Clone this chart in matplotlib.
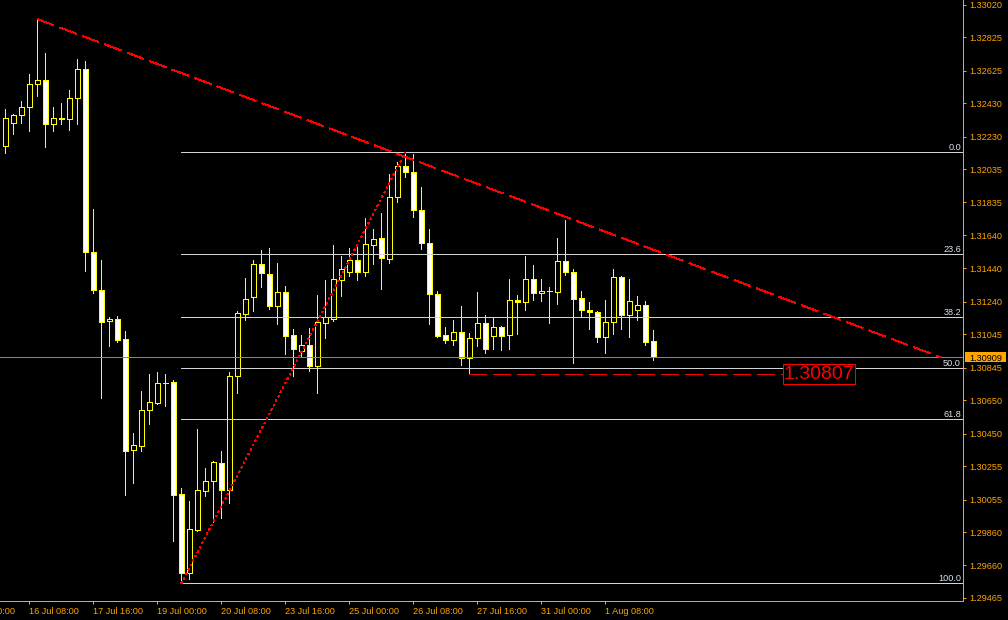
import matplotlib
matplotlib.use("Agg")
import matplotlib.pyplot as plt
import matplotlib.transforms as mtransforms
from matplotlib.patches import Rectangle

# ---------------- data (H4 candles) ----------------
opens = [1.32175, 1.32313, 1.32357, 1.32405, 1.32543, 1.32567, 1.32303, 1.32337, 1.32337, 1.32459,
         1.32633, 1.31536, 1.31309, 1.31123, 1.31135, 1.31015, 1.30350, 1.30378, 1.30590, 1.30635,
         1.30753, 1.30757, 1.30086, 1.29613, 1.29874, 1.30104, 1.30164, 1.30272, 1.30110, 1.30793,
         1.31169, 1.31267, 1.31465, 1.31405, 1.31213, 1.31297, 1.31039, 1.30947, 1.30979, 1.30857,
         1.31115, 1.31139, 1.31369, 1.31417, 1.31488, 1.31417, 1.31578, 1.31620, 1.31494, 1.31866,
         1.32052, 1.32016, 1.31788, 1.31590, 1.31285, 1.31039, 1.31009, 1.31057, 1.30901, 1.31021,
         1.31111, 1.31033, 1.31087, 1.31039, 1.31251, 1.31237, 1.31375, 1.31291, 1.31303, 1.31300,
         1.31482, 1.31417, 1.31261, 1.31189, 1.31177, 1.31027, 1.31117, 1.31387, 1.31163, 1.31189,
         1.31219, 1.31003]
highs = [1.32395, 1.32365, 1.32443, 1.32605, 1.32934, 1.32731, 1.32407, 1.32431, 1.32509, 1.32695,
         1.32683, 1.31796, 1.31490, 1.31149, 1.31155, 1.31065, 1.30454, 1.30705, 1.30807, 1.30817,
         1.30807, 1.30771, 1.30124, 1.30046, 1.30478, 1.30244, 1.30286, 1.30346, 1.30817, 1.31183,
         1.31382, 1.31490, 1.31550, 1.31562, 1.31472, 1.31334, 1.31077, 1.31041, 1.31083, 1.31281,
         1.31370, 1.31580, 1.31514, 1.31562, 1.31580, 1.31742, 1.31676, 1.31772, 1.32006, 1.32077,
         1.32136, 1.32125, 1.31928, 1.31676, 1.31303, 1.31091, 1.31131, 1.31215, 1.31051, 1.31299,
         1.31161, 1.31145, 1.31093, 1.31376, 1.31281, 1.31514, 1.31460, 1.31376, 1.31327, 1.31622,
         1.31730, 1.31435, 1.31305, 1.31239, 1.31185, 1.31251, 1.31436, 1.31393, 1.31376, 1.31275,
         1.31245, 1.31071]
lows = [1.32133, 1.32247, 1.32313, 1.32265, 1.32475, 1.32169, 1.32265, 1.32307, 1.32271, 1.32307,
        1.31426, 1.31294, 1.30665, 1.30977, 1.31001, 1.30082, 1.30156, 1.30348, 1.30509, 1.30627,
        1.30617, 1.29807, 1.29553, 1.29577, 1.29868, 1.30078, 1.29922, 1.29946, 1.30036, 1.30692,
        1.31131, 1.31185, 1.31330, 1.31198, 1.31109, 1.30929, 1.30797, 1.30911, 1.30827, 1.30695,
        1.31025, 1.31127, 1.31276, 1.31396, 1.31372, 1.31396, 1.31468, 1.31318, 1.31474, 1.31840,
        1.31986, 1.31750, 1.31558, 1.31109, 1.31031, 1.30995, 1.30983, 1.30863, 1.30807, 1.30977,
        1.30935, 1.30959, 1.30953, 1.30959, 1.31049, 1.31192, 1.31252, 1.31246, 1.31115, 1.31228,
        1.31402, 1.30875, 1.31151, 1.31079, 1.31001, 1.30935, 1.31049, 1.31079, 1.31031, 1.31133,
        1.30983, 1.30893]
closes = [1.32339, 1.32357, 1.32405, 1.32543, 1.32567, 1.32303, 1.32339, 1.32339, 1.32459, 1.32633,
          1.31536, 1.31309, 1.31121, 1.31135, 1.31013, 1.30348, 1.30380, 1.30590, 1.30638, 1.30751,
          1.30752, 1.30080, 1.29613, 1.29877, 1.30110, 1.30164, 1.30278, 1.30110, 1.30793, 1.31171,
          1.31255, 1.31465, 1.31411, 1.31213, 1.31297, 1.31037, 1.30955, 1.30979, 1.30857, 1.31117,
          1.31147, 1.31375, 1.31435, 1.31488, 1.31417, 1.31584, 1.31614, 1.31500, 1.31866, 1.32052,
          1.32016, 1.31788, 1.31590, 1.31285, 1.31037, 1.31009, 1.31057, 1.30901, 1.31021, 1.31111,
          1.30955, 1.31087, 1.31033, 1.31249, 1.31237, 1.31375, 1.31291, 1.31303, 1.31303, 1.31482,
          1.31417, 1.31255, 1.31189, 1.31179, 1.31027, 1.31117, 1.31387, 1.31163, 1.31243, 1.31219,
          1.31001, 1.30909]

time_tick_bars = [-5, 3, 11, 19, 27, 35, 43, 51, 59, 67, 75]
time_tick_labels = ["15 Jul 00:00", "16 Jul 08:00", "17 Jul 16:00", "19 Jul 00:00", "20 Jul 08:00",
                    "23 Jul 16:00", "25 Jul 00:00", "26 Jul 08:00", "27 Jul 16:00", "31 Jul 00:00",
                    "1 Aug 08:00"]
price_ticks = [1.33020, 1.32825, 1.32625, 1.32430, 1.32230, 1.32035, 1.31835, 1.31640, 1.31440,
               1.31240, 1.31045, 1.30845, 1.30650, 1.30450, 1.30255, 1.30055, 1.29860, 1.29660,
               1.29465]

bid_price = 1.30909
fib_bars = [22, 50]
fib_prices = [1.29553, 1.32136]
fib_levels = [0.0, 23.6, 38.2, 50.0, 61.8, 100.0]
trend_bars = [4, 117]
trend_prices = [1.32934, 1.30906]
support_bars = [58, 97.3]
support_price = 1.30807

# ---------------- style ----------------
plt.rcParams['font.family'] = ['Liberation Sans', 'DejaVu Sans']
plt.rcParams['lines.scale_dashes'] = False
ORANGE = '#ffa500'
YELLOW = '#ffff00'
RED = '#ff0000'
FIBC = '#d3d3d3'
FIBTXT = '#d8e4f0'
BIDC = '#778899'
PX = 0.72  # one pixel in points at dpi 100
FS = 6.6
DASH = (18 * PX, 6 * PX)
DOT = (2 * PX, 3 * PX)
RLW = 0.66

W, H = 1008, 620
fig = plt.figure(figsize=(W / 100, H / 100), dpi=100, facecolor='black')
ax = fig.add_axes([0, 19 / H, 963 / W, 601 / H], facecolor='black')
bar0, step = 5.3, 8.0
ax.set_xlim(-bar0 / step, (963 - bar0) / step)
ax.set_ylim(1.29447, 1.330482)

# candles
n = len(opens)
ax.vlines(range(n), lows, highs, colors=YELLOW, lw=PX, antialiased=False, zorder=2)
hw = 0.28
for i in range(n):
    o, c = opens[i], closes[i]
    fc = '#000000' if c >= o else '#ffffff'
    bot, top = min(o, c), max(o, c)
    ax.add_patch(Rectangle((i - hw, bot), 2 * hw, top - bot, facecolor=fc, edgecolor=YELLOW,
                           lw=PX, antialiased=False, zorder=3))

# bid line
ax.axhline(bid_price, color=BIDC, lw=PX, antialiased=False, zorder=4)

# fibonacci retracement
x_right = ax.get_xlim()[1]
rng = fib_prices[1] - fib_prices[0]
lab_tr = mtransforms.offset_copy(ax.get_yaxis_transform(), fig=fig, x=-2, y=2, units='dots')
for lv in fib_levels:
    p = fib_prices[1] - rng * lv / 100.0
    ax.plot([fib_bars[0], x_right], [p, p], color=FIBC, lw=PX, antialiased=False, zorder=5)
    ax.text(1.0, p, f"{lv:.1f}", transform=lab_tr, ha='right', va='baseline',
            color=FIBTXT, fontsize=FS, zorder=6)
ax.plot(fib_bars, fib_prices, color=RED, lw=RLW, dashes=DOT, antialiased=False, zorder=5)

# trend line
ax.plot(trend_bars, trend_prices, color=RED, lw=RLW, dashes=DASH, antialiased=False, zorder=5)

# support line with price box
ax.plot(support_bars, [support_price, support_price], color=RED, lw=PX, dashes=DASH,
        antialiased=False, zorder=5)
ax.text(support_bars[1], support_price, f"{support_price:.5f}", ha='left', va='center',
        fontsize=14, color=RED, zorder=7,
        bbox=dict(boxstyle='square,pad=0.06', facecolor='black', edgecolor=RED, lw=PX))

# axes styling
for s in ('left', 'top'):
    ax.spines[s].set_visible(False)
for s in ('bottom', 'right'):
    ax.spines[s].set_color(ORANGE)
    ax.spines[s].set_linewidth(PX)

ax.yaxis.tick_right()
ax.set_yticks(price_ticks)
ax.set_yticklabels([f"{v:.5f}" for v in price_ticks])
ax.tick_params(axis='y', colors=ORANGE, labelcolor=ORANGE, length=2.2, width=PX,
               labelsize=FS, pad=2.2, direction='out')

vis = [b for b in time_tick_bars if b >= ax.get_xlim()[0]]
ax.set_xticks(vis)
ax.set_xticklabels([])
ax.tick_params(axis='x', colors=ORANGE, length=2.4, width=PX, direction='out')
xl_tr = mtransforms.offset_copy(ax.get_xaxis_transform(), fig=fig, x=0, y=-13, units='dots')
for b, s in zip(time_tick_bars, time_tick_labels):
    ax.text(b, 0, s, transform=xl_tr, ha='left', va='baseline', color=ORANGE,
            fontsize=FS, clip_on=False)

# bid price label on axis
ylo, yhi = ax.get_ylim()
dy = (yhi - ylo) / 601 * 5.3
ax.add_patch(Rectangle((965 / 963, bid_price - dy), 41 / 963, 2 * dy,
                       transform=ax.get_yaxis_transform(), facecolor=ORANGE, edgecolor='none',
                       clip_on=False, zorder=9))
bid_tr = mtransforms.offset_copy(ax.get_yaxis_transform(), fig=fig, x=6, y=0, units='dots')
ax.text(1.0, bid_price, f"{bid_price:.5f}", transform=bid_tr, ha='left', va='center_baseline',
        fontsize=FS, color='black', clip_on=False, zorder=10)

fig.savefig('out.png', dpi=100, facecolor='black')
